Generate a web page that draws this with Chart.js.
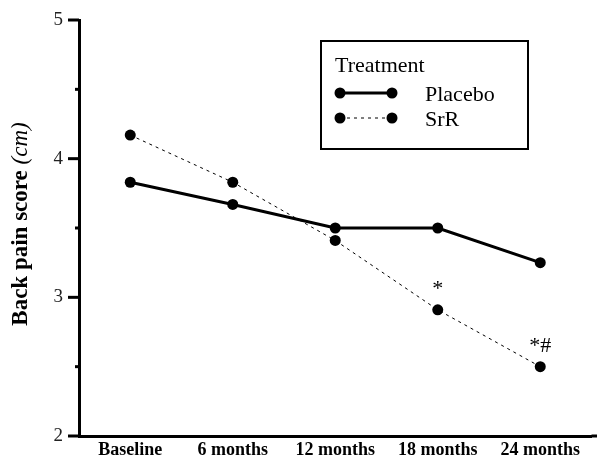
<!DOCTYPE html>
<html>
<head>
<meta charset="utf-8">
<script src="https://cdn.jsdelivr.net/npm/chart.js@4.4.1/dist/chart.umd.min.js"></script>
<style>
  html, body { margin: 0; padding: 0; background: #fff; }
</style>
</head>
<body>
<canvas id="painChart" width="597" height="461"></canvas>
<script>
// ============================
// DATA
// ============================
const timepoints = ["Baseline", "6 months", "12 months", "18 months", "24 months"];
const placeboScores = [3.83, 3.67, 3.50, 3.50, 3.25];
const srrScores = [4.17, 3.83, 3.41, 2.91, 2.50];
const srrMarks = ["", "", "", "*", "*#"]; // significance marks above SrR points
const legendTitle = "Treatment";
const seriesNames = ["Placebo", "SrR"];

const serif = "'Liberation Serif', 'Times New Roman', serif";

// ============================
// EXTRA DRAWING: ticks, marks, legend box, y title
// ============================
const decorations = {
  id: "decorations",
  afterDraw(chart) {
    const ctx = chart.ctx;
    const area = chart.chartArea;
    const yScale = chart.scales.y;
    ctx.save();
    ctx.strokeStyle = "#000";
    ctx.fillStyle = "#000";

    // y tick marks (long on integers, short on halves)
    ctx.lineWidth = 3;
    yScale.ticks.forEach((t) => {
      const py = yScale.getPixelForValue(t.value);
      const len = Number.isInteger(t.value) ? 11 : 4;
      ctx.beginPath();
      ctx.moveTo(area.left - len, py);
      ctx.lineTo(area.left, py);
      ctx.stroke();
    });
    // let the x axis run out to the edge
    ctx.beginPath();
    ctx.moveTo(area.right, area.bottom);
    ctx.lineTo(chart.width, area.bottom);
    ctx.stroke();

    // significance marks
    const srrMeta = chart.getDatasetMeta(1);
    ctx.textAlign = "center";
    ctx.textBaseline = "alphabetic";
    ctx.font = "22px " + serif;
    srrMarks.forEach((m, i) => {
      if (!m) return;
      const pt = srrMeta.data[i];
      ctx.fillText(m, pt.x, pt.y - 15);
    });

    // legend box
    ctx.lineWidth = 2;
    ctx.strokeRect(321, 41, 207, 108);
    ctx.textAlign = "left";
    ctx.font = "22px " + serif;
    ctx.fillText(legendTitle, 335, 72);
    const rows = [93, 118];
    chart.data.datasets.forEach((ds, i) => {
      const ly = rows[i];
      ctx.lineWidth = ds.borderWidth;
      ctx.setLineDash(ds.borderDash || []);
      ctx.beginPath();
      ctx.moveTo(340, ly);
      ctx.lineTo(392, ly);
      ctx.stroke();
      ctx.setLineDash([]);
      [340, 392].forEach((cx) => {
        ctx.beginPath();
        ctx.arc(cx, ly, ds.pointRadius, 0, Math.PI * 2);
        ctx.fill();
      });
      ctx.font = "22px " + serif;
      ctx.textBaseline = "middle";
      ctx.fillText(ds.label, 425, ly + 2);
      ctx.textBaseline = "alphabetic";
    });

    // y axis title: bold text + italic unit
    const boldPart = "Back pain score ";
    const italicPart = "(cm)";
    ctx.translate(27, 224);
    ctx.rotate(-Math.PI / 2);
    ctx.font = "bold 23px " + serif;
    const w1 = ctx.measureText(boldPart).width;
    ctx.font = "italic 23px " + serif;
    const w2 = ctx.measureText(italicPart).width;
    const x0 = -(w1 + w2) / 2;
    ctx.textAlign = "left";
    ctx.font = "bold 23px " + serif;
    ctx.fillText(boldPart, x0, 0);
    ctx.font = "italic 23px " + serif;
    ctx.fillText(italicPart, x0 + w1, 0);
    ctx.restore();
  },
};

// ============================
// CHART
// ============================
const ctx = document.getElementById("painChart").getContext("2d");

const painChart = new Chart(ctx, {
  type: "line",
  data: {
    labels: timepoints,
    datasets: [
      {
        label: seriesNames[0],
        data: placeboScores,
        borderColor: "#000",
        borderWidth: 3,
        pointRadius: 5.5,
        pointBackgroundColor: "#000",
        pointBorderWidth: 0,
        tension: 0,
      },
      {
        label: seriesNames[1],
        data: srrScores,
        borderColor: "#000",
        borderWidth: 1,
        borderDash: [3, 4],
        pointRadius: 5.5,
        pointBackgroundColor: "#000",
        pointBorderWidth: 0,
        tension: 0,
      },
    ],
  },
  options: {
    responsive: false,
    animation: false,
    layout: { padding: { top: 20, right: 5, left: 0, bottom: 0 } },
    plugins: {
      legend: { display: false },
      tooltip: { enabled: false },
    },
    scales: {
      x: {
        offset: true,
        grid: { display: false, drawTicks: false },
        border: { display: true, color: "#000", width: 3 },
        ticks: {
          color: "#000",
          font: { family: serif, size: 18, weight: "bold" },
          padding: 4,
          maxRotation: 0,
          autoSkip: false,
        },
        afterFit(scale) { scale.height = 25; },
      },
      y: {
        min: 2,
        max: 5,
        // invisible tick marks just to push the labels left; real ticks drawn in plugin
        grid: { display: true, drawOnChartArea: false, drawTicks: true, tickLength: 16, tickColor: "rgba(0,0,0,0)" },
        border: { display: true, color: "#000", width: 3 },
        ticks: {
          stepSize: 0.5,
          color: "#222",
          font: { family: serif, size: 19 },
          padding: 0,
          callback: (v) => (Number.isInteger(v) ? v : ""),
        },
        afterFit(scale) { scale.width = 79; },
      },
    },
  },
  plugins: [decorations],
});
</script>
</body>
</html>
